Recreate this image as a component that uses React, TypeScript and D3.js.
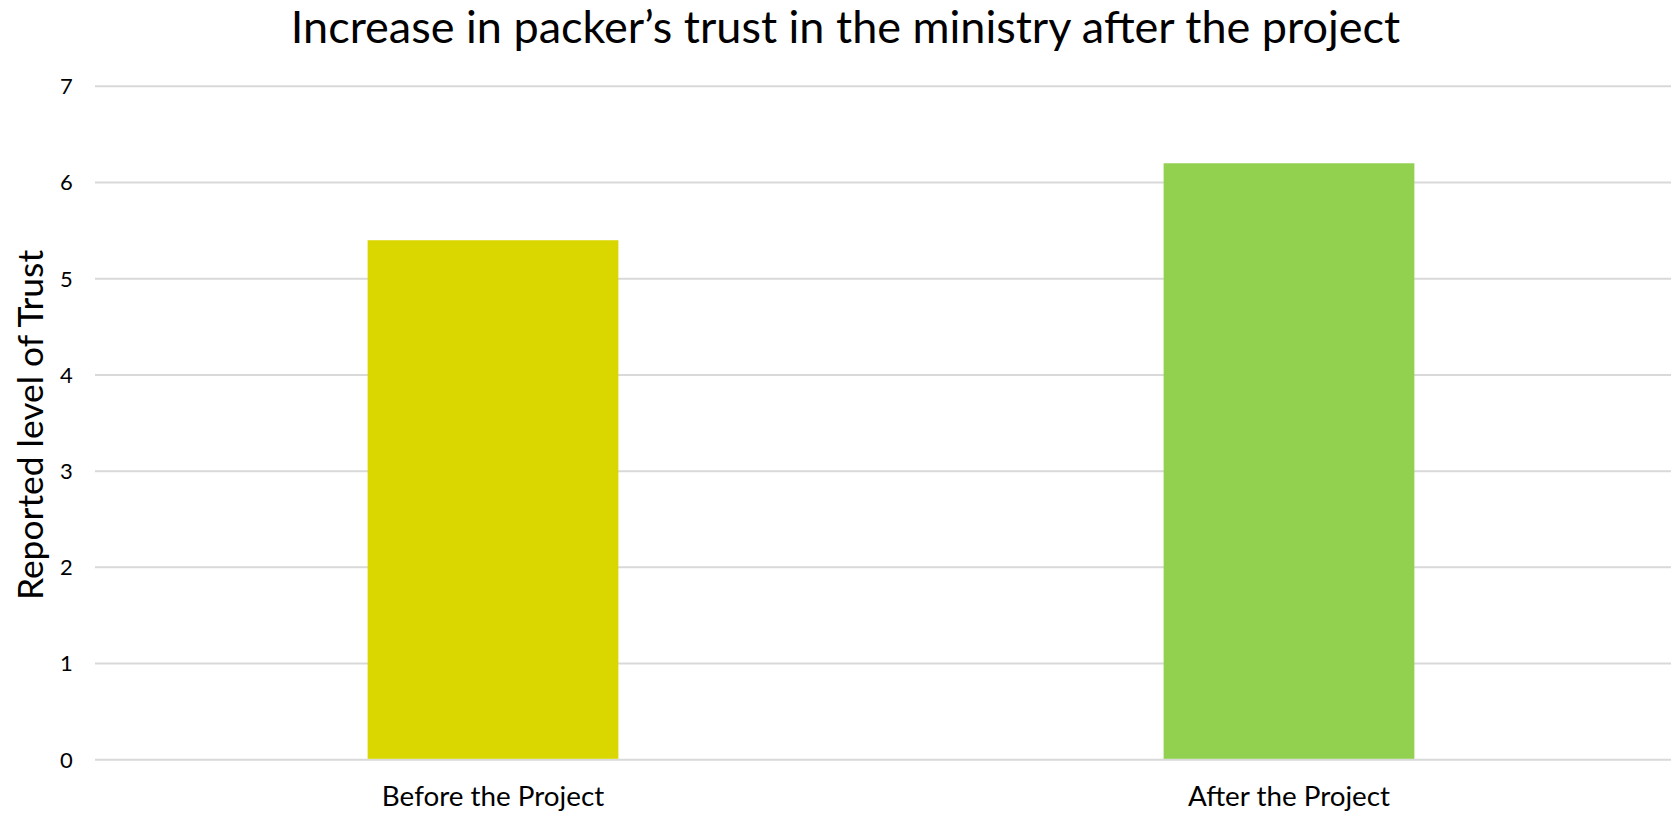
import React from "react";
import * as d3 from "d3";

const categories: string[] = ["Before the Project", "After the Project"];
const values: number[] = [5.4, 6.2];
const barColors: string[] = ["#DAD700", "#92D050"];
const yTicks: number[] = [0, 1, 2, 3, 4, 5, 6, 7];
const titleText = "Increase in packer\u2019s trust in the ministry after the project";
const yAxisTitle = "Reported level of Trust";

const W = 1671;
const H = 814;
const FONT = "Lato, 'Open Sans', sans-serif";

export default function App() {
  const plotLeft = 95;
  const plotRightBand = 1687;
  const yTop = 86.3;
  const yBottom = 759.8;

  const x = d3
    .scaleBand<string>()
    .domain(categories)
    .range([plotLeft, plotRightBand])
    .paddingInner(0.685)
    .paddingOuter(0.3425);

  const y = d3.scaleLinear().domain([0, 7]).range([yBottom, yTop]);

  return (
    <div style={{ position: "fixed", left: 0, top: 0, width: W, height: H, background: "#fff" }}>
      <svg width={W} height={H} style={{ display: "block" }}>
        <rect x={0} y={0} width={W} height={H} fill="#fff" />
        <text x={845.5} y={42.5} textAnchor="middle" fontFamily={FONT} fontSize={45} fill="#000">
          {titleText}
        </text>
        {yTicks.map((t) => (
          <g key={t}>
            <line x1={plotLeft} x2={W} y1={y(t)} y2={y(t)} stroke="#D9D9D9" strokeWidth={2} />
            <text x={72.7} y={y(t) + 7.8} textAnchor="end" fontFamily={FONT} fontSize={22} fill="#000">
              {t}
            </text>
          </g>
        ))}
        {categories.map((c, i) => (
          <rect
            key={c}
            x={x(c)}
            y={y(values[i])}
            width={x.bandwidth()}
            height={y(0) - y(values[i]) - 1}
            fill={barColors[i]}
          />
        ))}
        {categories.map((c) => (
          <text
            key={c}
            x={(x(c) as number) + x.bandwidth() / 2}
            y={806}
            textAnchor="middle"
            fontFamily={FONT}
            fontSize={27.8}
            fill="#000"
          >
            {c}
          </text>
        ))}
        <text
          transform={`translate(43, 425) rotate(-90)`}
          textAnchor="middle"
          fontFamily={FONT}
          fontSize={35.4}
          fill="#000"
        >
          {yAxisTitle}
        </text>
      </svg>
    </div>
  );
}
